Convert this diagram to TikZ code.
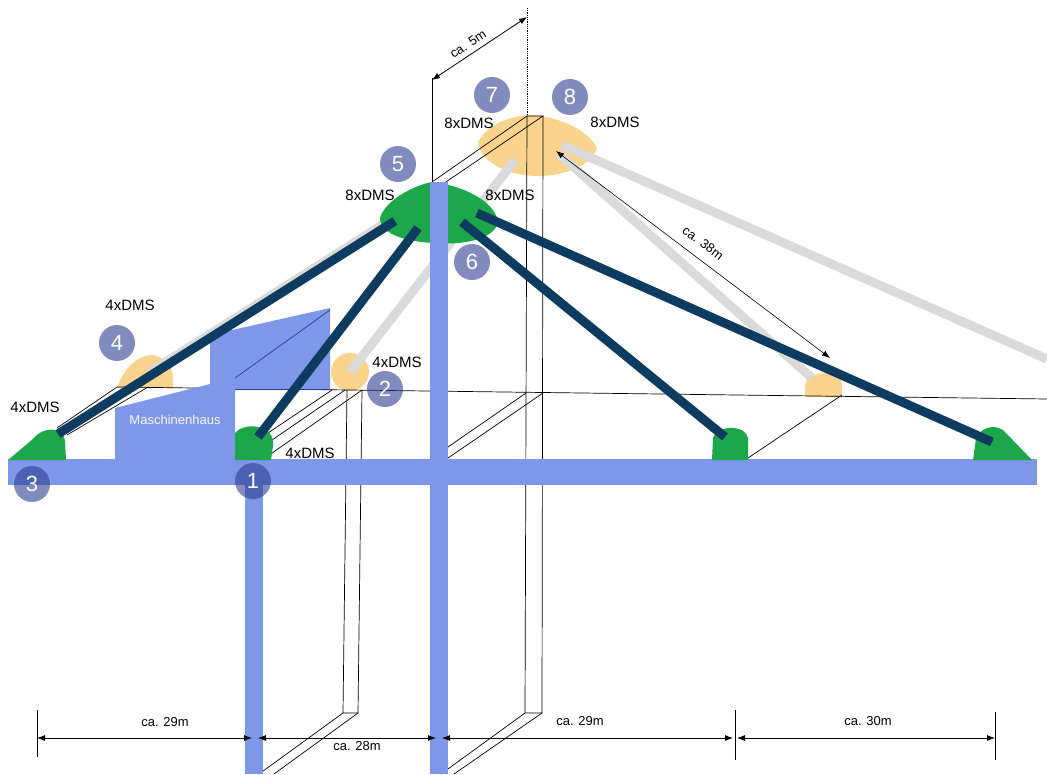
\documentclass[tikz,border=0pt]{standalone}
\usepackage{fontspec}
\setmainfont{Liberation Sans}
\usetikzlibrary{arrows.meta}
\definecolor{beam}{HTML}{7F97E8}
\definecolor{dms}{HTML}{1CA84A}
\definecolor{ylw}{HTML}{FAD48C}
\definecolor{rope}{HTML}{DADADA}
\definecolor{stay}{HTML}{0E3C61}
\definecolor{badge}{HTML}{2D3E92}
\definecolor{roofline}{HTML}{2B3A8A}
\begin{document}
\begin{tikzpicture}[x=1pt,y=-1pt,
  frame/.style={draw=black,line width=0.7pt},
  graycable/.style={draw=rope,line width=9pt},
  staycable/.style={draw=stay,line width=9pt},
  badgecirc/.style={circle,fill=badge,fill opacity=0.6,text opacity=1,text=white,
    minimum size=36pt,inner sep=0pt,font=\fontsize{22}{22}\selectfont},
  dmslabel/.style={font=\fontsize{15}{17}\selectfont,inner sep=0pt},
  dimlabel/.style={font=\fontsize{13}{15}\selectfont,inner sep=0pt},
  dimarrow/.style={{Latex[length=8pt,width=6pt]}-{Latex[length=8pt,width=6pt]},line width=0.8pt}
]
\useasboundingbox (0,0) rectangle (1047,774);

% ---- anchor points of the structure ----
\coordinate (g3) at (58,434);     % front left end
\coordinate (g1) at (258,437);    % front left pillar
\coordinate (gR) at (725,437);    % front right
\coordinate (gE) at (992,442);    % front right end
\coordinate (y4) at (150,372);    % back left
\coordinate (y2) at (350,372);    % back left pillar
\coordinate (yR) at (812,378);    % back right
\coordinate (t5a) at (395,221);   % front top, left side
\coordinate (t5b) at (418,228);
\coordinate (t6a) at (462,222);   % front top, right side
\coordinate (t6b) at (477,213);

% ---- rear (yellow) measuring points ----
\fill[ylw] (478,142) .. controls (488,124) and (510,116) .. (530,115)
  .. controls (560,116) and (590,132) .. (597,148)
  .. controls (592,165) and (565,176) .. (538,176)
  .. controls (508,176) and (480,162) .. (478,142) -- cycle;
\fill[ylw] (117,388) .. controls (125,365) and (140,355) .. (152,355)
  .. controls (165,356) and (173,368) .. (173,378) -- (173,388) -- cycle;
\fill[ylw] (y2) circle[radius=19];
\fill[ylw] (805,397) -- (805,386) .. controls (806,370) and (841,368) .. (842,385) -- (842,397) -- cycle;

% ---- rear stay cables ----
\coordinate (t4) at (420,201);
\coordinate (t7) at (515,160);
\coordinate (t8a) at (560,155);
\coordinate (t8b) at (562,145);
\coordinate (edge) at (1047,359);
\draw[graycable] (y4) -- (t4);
\draw[graycable] (y2) -- (t7);
\draw[graycable] (t8a) -- (yR);
\draw[graycable] (t8b) -- (edge);

% ---- wire frame of the rear gantry ----
\draw[frame] (117,387) -- (1047,399);
\draw[frame] (57,428) -- (117,387);
\draw[frame] (67,435) -- (148,387);
\draw[frame] (268,433) -- (332,390);
\draw[frame] (272,440) -- (345,390);
\draw[frame] (265,458) -- (362,390);
\draw[frame] (448,447) -- (526,393);
\draw[frame] (448,458) -- (543,393);
\draw[frame] (748,458) -- (842,395);
\draw[frame] (432,182) -- (527,116) -- (543,116) -- (437,188);
% rear pillars
\draw[frame] (347,390) -- (343,713) -- (358,713) -- (362,390);
\draw[frame] (343,713) -- (259,774);
\draw[frame] (358,713) -- (274,774);
\draw[frame] (527,116) -- (525,713) -- (542,713) -- (543,116);
\draw[frame] (525,713) -- (441,774);
\draw[frame] (542,713) -- (454,774);

% ---- machine house ----
\fill[beam] (115,460) -- (115,408) -- (210,384) -- (210,335) -- (330,308)
  -- (330,389) -- (235,389) -- (235,460) -- cycle;
\draw[roofline,line width=0.7pt] (235,378) -- (330,310);
\draw[roofline,line width=1pt] (235,389) -- (330,389);
\node[font=\fontsize{13}{15}\selectfont,text=white!92!beam,inner sep=0pt] (mh) at (175,420) {Maschinenhaus};

% ---- front gantry ----
\fill[beam] (8,459) rectangle (1037,485);
\fill[beam] (245,485) rectangle (263,774);

% ---- front (green) measuring points ----
\fill[dms] (8,460) -- (33,439) .. controls (43,426) and (63,426) .. (65,441) -- (66,460) -- cycle;
\fill[dms] (235,460) -- (235,433) .. controls (245,421) and (276,425) .. (273,446) -- (271,460) -- cycle;
\fill[dms] (712,460) -- (713,438) .. controls (718,424) and (746,425) .. (748,438) -- (748,460) -- cycle;
\fill[dms] (973,460) -- (976,438) .. controls (982,425) and (999,424) .. (1006,433) -- (1032,460) -- cycle;
\fill[dms] (380,218) .. controls (385,200) and (415,185) .. (432,182)
  .. controls (460,185) and (495,200) .. (498,222)
  .. controls (495,240) and (460,245) .. (439,243)
  .. controls (410,243) and (380,235) .. (380,218) -- cycle;
\fill[beam] (430,182) rectangle (448,774);

% ---- front stay cables ----
\draw[staycable] (t5a) -- (g3);
\draw[staycable] (t5b) -- (g1);
\draw[staycable] (t6a) -- (gR);
\draw[staycable] (t6b) -- (gE);

% ---- numbered measuring points ----
\node[badgecirc] (b1) at (253,481) {1};
\node[badgecirc] (b2) at (385,389) {2};
\node[badgecirc] (b3) at (32,484) {3};
\node[badgecirc] (b4) at (117,343) {4};
\node[badgecirc] (b5) at (398,164) {5};
\node[badgecirc] (b6) at (472,262) {6};
\node[badgecirc] (b7) at (492,95) {7};
\node[badgecirc] (b8) at (570,97) {8};

% ---- strain gauge counts ----
\node[dmslabel] (d4) at (130,305) {4xDMS};
\node[dmslabel] (d3) at (35,407) {4xDMS};
\node[dmslabel] (d2) at (397,362) {4xDMS};
\node[dmslabel] (d1) at (310,453) {4xDMS};
\node[dmslabel] (d5) at (370,195) {8xDMS};
\node[dmslabel] (d6) at (510,195) {8xDMS};
\node[dmslabel] (d7) at (469,123) {8xDMS};
\node[dmslabel] (d8) at (615,122) {8xDMS};

% ---- dimensions ----
\coordinate (o5a) at (432,78);
\coordinate (o5b) at (432,182);
\coordinate (o5c) at (527,8);
\coordinate (o5d) at (527,116);
\draw[frame] (o5a) -- (o5b);
\draw[black,densely dotted,line width=0.8pt] (o5c) -- (o5d);
\coordinate (a5a) at (432,80);
\coordinate (a5b) at (527,17);
\draw[dimarrow] (a5a) -- (a5b);
\node[dimlabel,rotate=33] (l5) at (468,44) {ca. 5m};

\coordinate (a38a) at (556,151);
\coordinate (a38b) at (830,358);
\draw[dimarrow,line width=0.6pt] (a38a) -- (a38b);
\node[dimlabel,rotate=-37] (l38) at (703,243) {ca. 38m};

\coordinate (k0) at (37,738);
\coordinate (k1) at (252,738);
\coordinate (k2) at (258,738);
\coordinate (k3) at (436,738);
\coordinate (k4) at (442,738);
\coordinate (k5) at (733,738);
\coordinate (k6) at (737,738);
\coordinate (k7) at (995,738);
\draw[frame] (37,710) -- (37,757);
\draw[frame] (735,710) -- (735,760);
\draw[frame] (995,712) -- (995,760);
\draw[dimarrow] (k0) -- (k1);
\draw[dimarrow] (k2) -- (k3);
\draw[dimarrow] (k4) -- (k5);
\draw[dimarrow] (k6) -- (k7);
\node[dimlabel] (m1) at (165,722) {ca. 29m};
\node[dimlabel] (m2) at (357,746) {ca. 28m};
\node[dimlabel] (m3) at (580,721) {ca. 29m};
\node[dimlabel] (m4) at (868,721) {ca. 30m};
\end{tikzpicture}
\end{document}
